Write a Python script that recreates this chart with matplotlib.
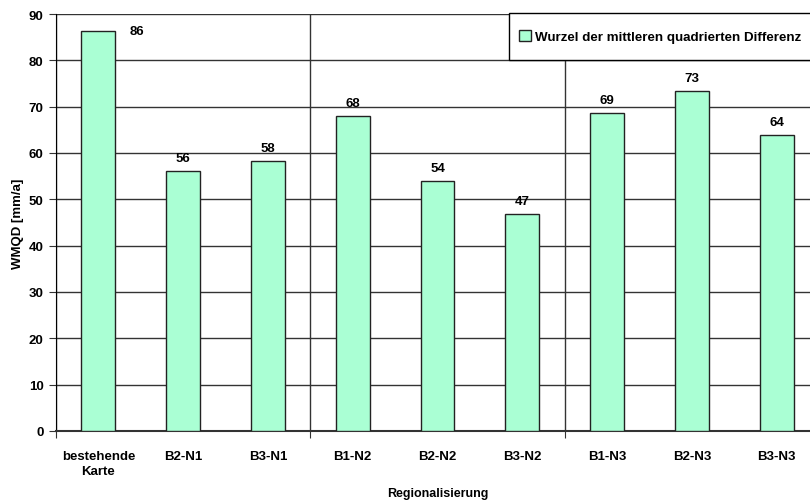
import matplotlib.pyplot as plt
from matplotlib.patches import Rectangle
import numpy as np

plt.rcParams['font.family'] = ['Liberation Sans', 'DejaVu Sans']

categories = ["bestehende\nKarte", "B2-N1", "B3-N1", "B1-N2", "B2-N2", "B3-N2",
              "B1-N3", "B2-N3", "B3-N3"]
wmqd = [86.3, 56.1, 58.2, 68.0, 54.0, 46.8, 68.6, 73.4, 63.8]
series_name = "Wurzel der mittleren quadrierten Differenz"

fig = plt.figure(figsize=(8.1, 5.02), dpi=100)
ax = fig.add_axes([56 / 810, 70 / 502, 763 / 810, 417 / 502])

x = np.arange(len(categories))
bars = ax.bar(x, wmqd, width=0.4, color='#aaffd4', edgecolor='#222222',
              linewidth=1, label=series_name, zorder=3)

# value labels (first one sits beside the bar, like the original)
for i, v in enumerate(wmqd):
    if i == 0:
        ax.annotate(f"{v:.0f}", (x[i], v), xytext=(28, 0), textcoords='offset points',
                    ha='center', va='center', fontsize=9.5, fontweight='bold')
    else:
        ax.annotate(f"{v:.0f}", (x[i], v), xytext=(0, 5), textcoords='offset points',
                    ha='center', va='bottom', fontsize=9.5, fontweight='bold')

ax.set_xlim(-0.5, len(categories) - 0.5)
ax.set_ylim(0, 90)
ax.set_yticks(np.arange(0, 91, 10))
ax.yaxis.grid(True, color='#333333', linewidth=1, zorder=0)

# group separators at every third category
ax.set_xticks([-0.5, 2.5, 5.5, 8.5])
ax.set_xticklabels([])
ax.xaxis.grid(True, color='#333333', linewidth=1, zorder=0)
ax.set_xticks(x, minor=True)
ax.set_xticklabels(categories, minor=True, fontsize=9.5, fontweight='bold',
                   linespacing=1.3)
ax.tick_params(axis='x', which='minor', length=0, pad=14)
ax.tick_params(axis='x', which='major', direction='out', length=5, color='#333333')
ax.tick_params(axis='y', direction='out', length=5, labelsize=9.5, color='#333333', pad=4)
for lab in ax.get_yticklabels():
    lab.set_fontweight('bold')

for s in ['top', 'right']:
    ax.spines[s].set_visible(False)
ax.spines['left'].set_color('black')
ax.spines['bottom'].set_color('#333333')
ax.spines['bottom'].set_linewidth(1.5)

ax.set_ylabel("WMQD [mm/a]", fontsize=9.5, fontweight='bold', labelpad=3)
ax.set_xlabel("Regionalisierung", fontsize=9, fontweight='bold', labelpad=7)

# legend box (runs past the right edge like in the original)
fig.patches.append(Rectangle((509 / 810, 1 - 61 / 502), 400 / 810, 47 / 502,
                             transform=fig.transFigure, fill=True, facecolor='white',
                             edgecolor='black', linewidth=1, zorder=5))
leg = fig.legend(loc='center left', bbox_to_anchor=(519 / 810, 1 - 37.5 / 502),
                 frameon=False, prop={'size': 9.6, 'weight': 'bold'}, borderpad=0,
                 handlelength=0.9, handleheight=0.9, handletextpad=0.3,
                 borderaxespad=0)
leg.set_zorder(6)

fig.savefig('out.png', dpi=100)
